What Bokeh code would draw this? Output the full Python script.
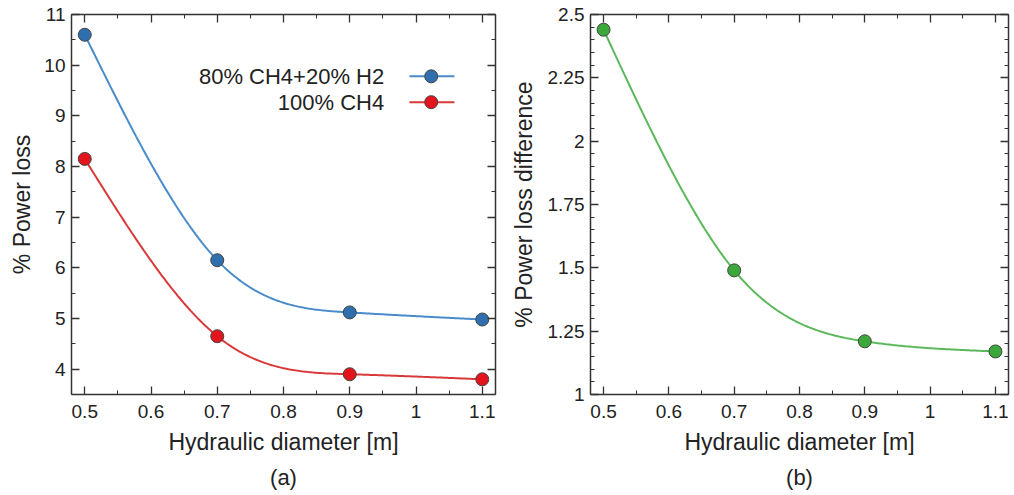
import numpy as np
from bokeh.plotting import figure
from bokeh.layouts import row
from bokeh.models import (SingleIntervalTicker, LinearAxis, NumeralTickFormatter,
                          CustomJSTickFormatter, Range1d, Title)
from bokeh.core.properties import value
from bokeh.embed import file_html
from bokeh.resources import INLINE

# ---------------- data ----------------
diameter = [0.5, 0.7, 0.9, 1.1]
loss_mix = [10.6, 6.15, 5.12, 4.98]      # 80% CH4 + 20% H2
loss_ch4 = [8.15, 4.65, 3.90, 3.80]      # 100% CH4
loss_diff = [2.44, 1.49, 1.21, 1.17]     # difference
series_names = ["80% CH4+20% H2", "100% CH4"]
x_label = "Hydraulic diameter [m]"
y_label_a = "% Power loss"
y_label_b = "% Power loss difference"
panel_labels = ["(a)", "(b)"]

FONT = "Liberation Sans"
AXC = "#333333"
BLUE_L, BLUE_M = "#4a8ccb", "#2f6fae"
RED_L, RED_M = "#d83a3a", "#e3141c"
GRN_L, GRN_M = "#5cb85c", "#3aa83a"


def natural_spline(x, y, n=80):
    """Natural cubic spline through the given points (used only to draw the line)."""
    x = np.asarray(x, float)
    y = np.asarray(y, float)
    k = len(x)
    h = np.diff(x)
    A = np.zeros((k, k))
    b = np.zeros(k)
    A[0, 0] = 1.0
    A[-1, -1] = 1.0
    for i in range(1, k - 1):
        A[i, i - 1] = h[i - 1]
        A[i, i] = 2 * (h[i - 1] + h[i])
        A[i, i + 1] = h[i]
        b[i] = 6 * ((y[i + 1] - y[i]) / h[i] - (y[i] - y[i - 1]) / h[i - 1])
    M = np.linalg.solve(A, b)
    xs, ys = [], []
    for i in range(k - 1):
        t = np.linspace(x[i], x[i + 1], n, endpoint=(i == k - 2))
        a = x[i + 1] - t
        c = t - x[i]
        s = (M[i] * a**3 + M[i + 1] * c**3) / (6 * h[i]) \
            + (y[i] / h[i] - M[i] * h[i] / 6) * a \
            + (y[i + 1] / h[i] - M[i + 1] * h[i] / 6) * c
        xs.append(t)
        ys.append(s)
    return np.concatenate(xs), np.concatenate(ys)


BLANK = CustomJSTickFormatter(code="return ''")


def style_axis(ax, labels=True):
    ax.axis_line_color = AXC
    ax.axis_line_width = 1.5
    ax.major_tick_line_color = AXC
    ax.minor_tick_line_color = AXC
    ax.major_tick_line_width = 1.3
    ax.minor_tick_line_width = 1.0
    ax.major_tick_in = 8
    ax.major_tick_out = 0
    ax.minor_tick_in = 4
    ax.minor_tick_out = 0
    ax.major_label_text_font = FONT
    ax.major_label_text_color = "#222222"
    ax.major_label_text_font_size = "19px"
    ax.axis_label_text_font = FONT
    ax.axis_label_text_font_style = "normal"
    ax.axis_label_text_color = "#222222"
    ax.axis_label_text_font_size = "23px"
    if not labels:
        ax.major_label_standoff = 0


def make_fig(y_start, y_end, y_int, y_minor, ylabel, panel, bl, fw, br, ylab_standoff):
    p = figure(frame_width=fw, frame_height=380,
               x_range=Range1d(0.48, 1.12), y_range=Range1d(y_start, y_end),
               output_backend="svg", toolbar_location=None,
               min_border_left=bl, min_border_right=br,
               min_border_top=14, min_border_bottom=10,
               x_axis_type=None, y_axis_type=None)
    p.grid.visible = False
    p.outline_line_color = None
    p.background_fill_color = "white"
    p.border_fill_color = "white"

    xt = SingleIntervalTicker(interval=0.1, num_minor_ticks=2)
    yt = SingleIntervalTicker(interval=y_int, num_minor_ticks=y_minor)
    fmt = NumeralTickFormatter(format="0.[00]")

    xb = LinearAxis(ticker=xt, formatter=fmt, axis_label=x_label)
    style_axis(xb)
    xb.major_label_standoff = 10
    xb.axis_label_standoff = 8
    xa = LinearAxis(ticker=xt, formatter=BLANK)
    style_axis(xa, labels=False)
    yl = LinearAxis(ticker=yt, formatter=fmt, axis_label=ylabel)
    style_axis(yl)
    yl.major_label_standoff = 6
    yl.axis_label_standoff = ylab_standoff
    yr = LinearAxis(ticker=yt, formatter=BLANK)
    style_axis(yr, labels=False)

    p.add_layout(xb, "below")
    p.add_layout(xa, "above")
    p.add_layout(yl, "left")
    p.add_layout(yr, "right")

    t = Title(text=panel, align="center", text_font=FONT, text_font_size="22px",
              text_font_style="normal", text_color="#222222", standoff=10)
    p.add_layout(t, "below")
    return p


# ---------------- panel (a) ----------------
pa = make_fig(3.5, 11, 1, 2, y_label_a, panel_labels[0], 71, 424, 12, 6)
for ys, lc, mc in [(loss_mix, BLUE_L, BLUE_M), (loss_ch4, RED_L, RED_M)]:
    sx, sy = natural_spline(diameter, ys)
    pa.line(sx, sy, line_color=lc, line_width=2)
    pa.scatter(diameter, ys, size=13, fill_color=mc, line_color="#444444", line_width=1)

# legend (text on the left, sample on the right)
leg_text_x = 0.952
leg_line_x0, leg_line_x1, leg_mark_x = 0.99, 1.058, 1.023
leg_y = [9.78, 9.27]
pa.text([leg_text_x] * 2, leg_y, text=series_names, text_align="right",
        text_baseline="middle", text_font=value(FONT), text_font_size="22px",
        text_color="#222222")
for yy, lc, mc in zip(leg_y, [BLUE_L, RED_L], [BLUE_M, RED_M]):
    pa.segment(x0=[leg_line_x0], y0=[yy], x1=[leg_line_x1], y1=[yy], line_color=lc, line_width=2)
    pa.scatter([leg_mark_x], [yy], size=13, fill_color=mc, line_color="#444444", line_width=1)

# ---------------- panel (b) ----------------
pb = make_fig(1, 2.5, 0.25, 5, y_label_b, panel_labels[1], 82, 418, 2, 8)
sx, sy = natural_spline(diameter, loss_diff)
pb.line(sx, sy, line_color=GRN_L, line_width=2)
pb.scatter(diameter, loss_diff, size=13, fill_color=GRN_M, line_color="#444444", line_width=1)

layout = row(pa, pb)
open("out.html", "w").write(file_html(layout, INLINE))
